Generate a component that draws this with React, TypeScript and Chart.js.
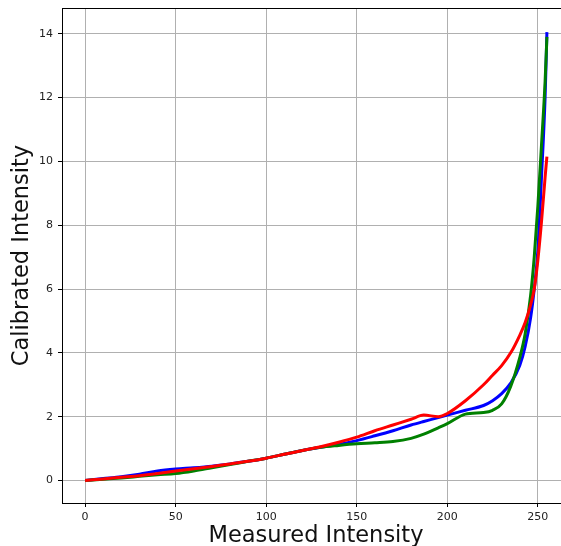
import React, { useEffect, useRef } from "react";
import { Chart, registerables } from "chart.js";

Chart.register(...registerables);

const xValues = [0, 10, 20, 30, 40, 50, 60, 70, 80, 90, 100, 110, 120, 130, 140, 150, 160, 170, 180, 187, 195, 200, 210, 220, 225, 230, 235, 240, 243, 246, 248, 250, 252, 254, 255];
const blueValues = [0, 0.06, 0.12, 0.2, 0.3, 0.36, 0.4, 0.45, 0.52, 0.6, 0.7, 0.82, 0.94, 1.04, 1.13, 1.25, 1.4, 1.56, 1.74, 1.85, 1.97, 2.05, 2.2, 2.35, 2.5, 2.72, 3.05, 3.6, 4.2, 5.1, 6.0, 7.2, 9.5, 12.0, 14.05];
const greenValues = [0, 0.04, 0.08, 0.13, 0.18, 0.22, 0.3, 0.4, 0.5, 0.6, 0.7, 0.82, 0.94, 1.04, 1.1, 1.15, 1.18, 1.22, 1.32, 1.45, 1.65, 1.78, 2.08, 2.13, 2.2, 2.4, 2.95, 3.85, 4.6, 5.8, 7.0, 8.6, 10.5, 12.5, 13.9];
const redValues = [0, 0.05, 0.1, 0.15, 0.22, 0.3, 0.37, 0.44, 0.52, 0.6, 0.7, 0.82, 0.94, 1.06, 1.2, 1.36, 1.56, 1.74, 1.92, 2.05, 2.0, 2.1, 2.5, 3.0, 3.3, 3.6, 4.0, 4.55, 4.95, 5.5, 6.0, 6.9, 8.1, 9.5, 10.15];

const xTicks = [0, 50, 100, 150, 200, 250];
const yTicks = [0, 2, 4, 6, 8, 10, 12, 14];
const xTitle = "Measured Intensity";
const yTitle = "Calibrated Intensity";

const toPoints = (ys: number[]) => xValues.map((x, i) => ({ x, y: ys[i] }));

const framePlugin = {
  id: "frame",
  afterDraw(chart: any) {
    const { ctx, chartArea } = chart;
    ctx.save();
    ctx.strokeStyle = "#000";
    ctx.lineWidth = 1;
    ctx.strokeRect(chartArea.left + 0.5, chartArea.top + 0.5, chartArea.right - chartArea.left, chartArea.bottom - chartArea.top);
    ctx.restore();
  },
};

export default function App() {
  const ref = useRef<HTMLCanvasElement>(null);
  useEffect(() => {
    if (!ref.current) return;
    const font = "'DejaVu Sans', sans-serif";
    const chart = new Chart(ref.current, {
      type: "line",
      data: {
        datasets: [
          { data: toPoints(blueValues), borderColor: "#0000ff", borderWidth: 3, pointRadius: 0, cubicInterpolationMode: "monotone", order: 3 },
          { data: toPoints(greenValues), borderColor: "#008000", borderWidth: 3, pointRadius: 0, cubicInterpolationMode: "monotone", order: 2 },
          { data: toPoints(redValues), borderColor: "#ff0000", borderWidth: 3, pointRadius: 0, cubicInterpolationMode: "monotone", order: 1 },
        ],
      },
      options: {
        animation: false,
        responsive: false,
        devicePixelRatio: 1,
        layout: { padding: { top: 8, right: 5, left: 0, bottom: 0 } },
        plugins: { legend: { display: false }, tooltip: { enabled: false } },
        scales: {
          x: {
            type: "linear",
            min: -12.75,
            max: 267.75,
            afterBuildTicks: (s: any) => { s.ticks = xTicks.map((v) => ({ value: v })); },
            afterFit: (s: any) => { s.height = 57; s.paddingLeft = 0; s.paddingRight = 0; },
            grid: { color: "#b0b0b0", lineWidth: 1, tickLength: 4, tickColor: "#000" },
            border: { display: true, color: "#000", width: 1 },
            ticks: { font: { family: font, size: 11 }, color: "#222", padding: 4, maxRotation: 0 },
            title: { display: true, text: xTitle, font: { family: font, size: 22.5 }, color: "#111", padding: { top: 0, bottom: 10 } },
          },
          y: {
            type: "linear",
            min: -0.705,
            max: 14.805,
            afterBuildTicks: (s: any) => { s.ticks = yTicks.map((v) => ({ value: v })); },
            afterFit: (s: any) => { s.width = 62; s.paddingTop = 0; s.paddingBottom = 0; },
            grid: { color: "#b0b0b0", lineWidth: 1, tickLength: 4, tickColor: "#000" },
            border: { display: true, color: "#000", width: 1 },
            ticks: { font: { family: font, size: 11 }, color: "#222", padding: 5 },
            title: { display: true, text: yTitle, font: { family: font, size: 22.5 }, color: "#111", padding: { top: 9, bottom: 0 } },
          },
        },
      },
      plugins: [framePlugin],
    } as any);
    return () => chart.destroy();
  }, []);
  return (
    <div style={{ position: "absolute", left: 0, top: 0, width: 561, height: 546, overflow: "hidden", background: "#fff" }}>
      <canvas ref={ref} width={575} height={560} style={{ width: 575, height: 560, display: "block" }} />
    </div>
  );
}
